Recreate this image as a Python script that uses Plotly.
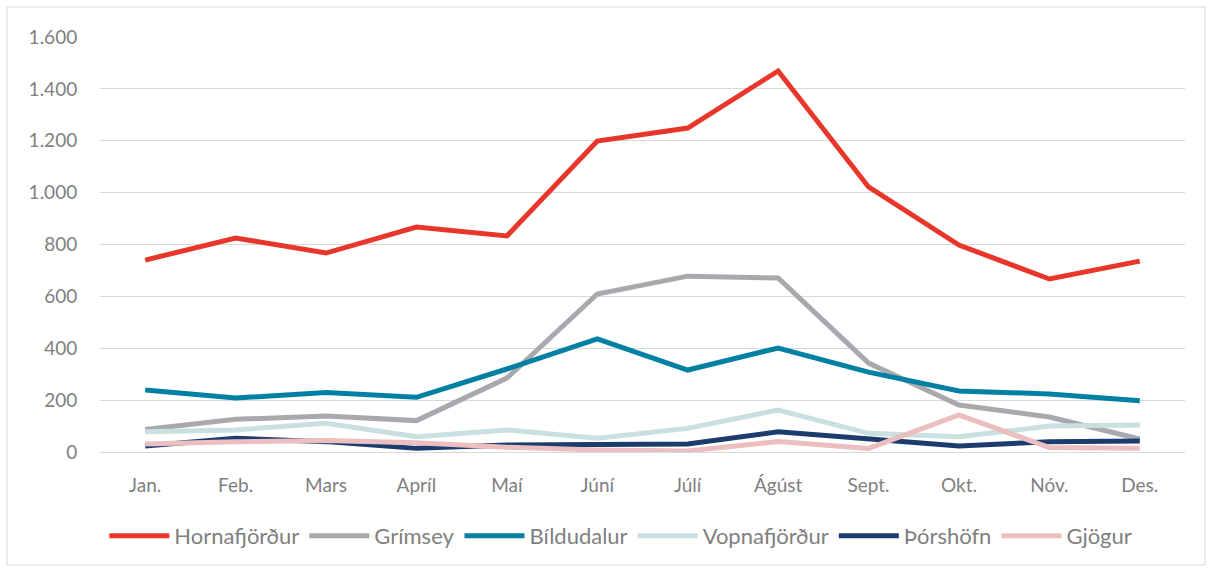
import plotly.graph_objects as go

months = ["Jan.", "Feb.", "Mars", "Apríl", "Maí", "Júní", "Júlí", "Ágúst", "Sept.", "Okt.", "Nóv.", "Des."]

hornafjordur = [740, 825, 767, 867, 833, 1199, 1249, 1469, 1022, 798, 667, 736]
grimsey = [87, 126, 139, 121, 285, 609, 678, 671, 343, 181, 135, 50]
bildudalur = [239, 208, 229, 211, 320, 436, 316, 401, 308, 235, 224, 198]
vopnafjordur = [78, 85, 111, 59, 85, 53, 91, 162, 72, 59, 100, 104]
thorshofn = [23, 53, 40, 14, 27, 27, 31, 78, 50, 23, 40, 42]
gjogur = [31, 40, 44, 36, 18, 8, 4, 40, 14, 143, 17, 14]

series = [
    ("Hornafjörður", hornafjordur, "#E8372A"),
    ("Grímsey", grimsey, "#A8A9AD"),
    ("Bíldudalur", bildudalur, "#0080A2"),
    ("Vopnafjörður", vopnafjordur, "#CADFDF"),
    ("Þórshöfn", thorshofn, "#1C3C6E"),
    ("Gjögur", gjogur, "#ECBEC0"),
]

fig = go.Figure()
for name, vals, color in series:
    fig.add_trace(go.Scatter(x=months, y=vals, name=name, mode="lines",
                             line=dict(color=color, width=5)))

W, H = 1212, 572
ml, mr, mt, mb = 100, 27, 37, 120
pw, ph = W - ml - mr, H - mt - mb

def px(x):
    return (x - ml) / pw

def py(y):
    return (H - mb - y) / ph

fig.update_layout(
    width=W, height=H,
    margin=dict(l=ml, r=mr, t=mt, b=mb),
    paper_bgcolor="white", plot_bgcolor="white",
    separators=",.",
    font=dict(family="Lato, Open Sans, sans-serif", size=19, color="#7F7F7F"),
    showlegend=True,
    legend=dict(orientation="h", x=0.48, xanchor="center", y=py(536), yanchor="middle",
                font=dict(size=22, color="#7F7F7F"), tracegroupgap=0, itemwidth=60),
    xaxis=dict(type="category", range=[-0.5, 11.5], showgrid=False, showline=False,
               ticks="outside", ticklen=16, tickcolor="rgba(0,0,0,0)",
               tickfont=dict(size=19, color="#7F7F7F")),
    yaxis=dict(range=[0, 1600], dtick=200, tickformat=",d", showgrid=True,
               gridcolor="#D9D9D9", gridwidth=1, zeroline=True, zerolinecolor="#D9D9D9",
               zerolinewidth=1, showline=False, ticks="outside", ticklen=18,
               tickcolor="rgba(0,0,0,0)", tickfont=dict(size=19, color="#7F7F7F")),
    shapes=[dict(type="rect", xref="paper", yref="paper",
                 x0=px(7), x1=px(1205), y0=py(565), y1=py(7),
                 line=dict(color="#D9D9D9", width=1), fillcolor="rgba(0,0,0,0)",
                 layer="below")],
)

fig.write_html("out.html", config={"displayModeBar": False},
               post_script="document.body.style.margin='0';")
